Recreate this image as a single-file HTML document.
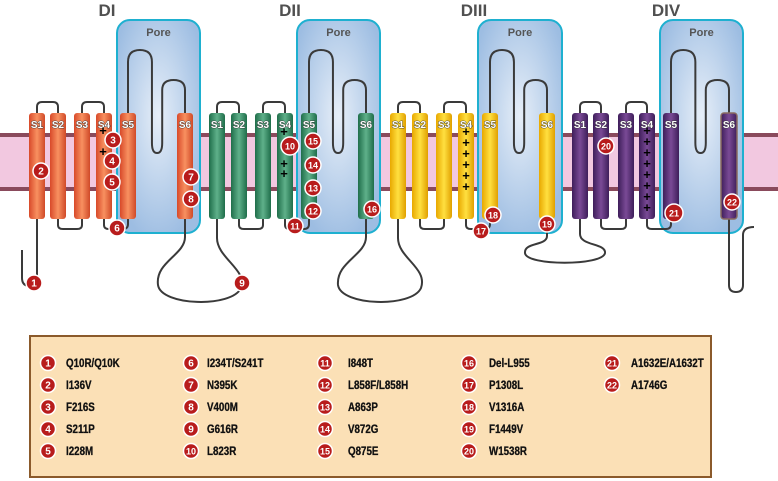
<!DOCTYPE html>
<html><head><meta charset="utf-8"><style>
html,body{margin:0;padding:0;background:#fff;width:778px;height:481px;overflow:hidden}
svg{display:block}
.t{font-family:"Liberation Sans",sans-serif;font-weight:bold}
</style></head><body>
<svg id="s" width="778" height="481" viewBox="0 0 778 481" xmlns="http://www.w3.org/2000/svg">
<defs>
<radialGradient id="pore" cx="0.5" cy="0.45" r="0.6"><stop offset="0" stop-color="#e6eef8"/><stop offset="1" stop-color="#9dbde2"/></radialGradient>
<linearGradient id="gO" x1="0" x2="1"><stop offset="0" stop-color="#d84a2a"/><stop offset="0.5" stop-color="#f89060"/><stop offset="1" stop-color="#d04a28"/></linearGradient>
<linearGradient id="gG" x1="0" x2="1"><stop offset="0" stop-color="#1f6e4a"/><stop offset="0.5" stop-color="#5fb08a"/><stop offset="1" stop-color="#1f6e4a"/></linearGradient>
<linearGradient id="gY" x1="0" x2="1"><stop offset="0" stop-color="#e8a800"/><stop offset="0.5" stop-color="#ffe040"/><stop offset="1" stop-color="#e0a000"/></linearGradient>
<linearGradient id="gP" x1="0" x2="1"><stop offset="0" stop-color="#3e1e5a"/><stop offset="0.5" stop-color="#7a4a96"/><stop offset="1" stop-color="#3e1e5a"/></linearGradient>
</defs>
<rect x="0" y="135" width="778" height="54" fill="#f2c8e0"/>
<rect x="0" y="133" width="778" height="4" fill="#8a4a5c"/>
<rect x="0" y="187" width="778" height="4" fill="#8a4a5c"/>
<g id="g"></g>
</svg>
<script>
const g=document.getElementById('g');let h='';
const D=[
 {n:'DI',tx:107,c:'gO',x:[29,50,74,96,120,177],pore:[117,200]},
 {n:'DII',tx:290,c:'gG',x:[209,231,255,277,301,358],pore:[297,380]},
 {n:'DIII',tx:474,c:'gY',x:[390,412,436,458,482,539],pore:[478,562]},
 {n:'DIV',tx:666,c:'gP',x:[572,593,618,639,663,721],pore:[660,743]}];
const L='fill="none" stroke="#3a3a3a" stroke-width="2"';
D.forEach(d=>{h+=`<rect x="${d.pore[0]}" y="20" width="${d.pore[1]-d.pore[0]}" height="213" rx="13" fill="url(#pore)" stroke="#1eb0d0" stroke-width="2"/>`;
h+=`<text class="t" x="${(d.pore[0]+d.pore[1])/2}" y="36" font-size="11" fill="#555" text-anchor="middle">Pore</text>`;
h+=`<text class="t" x="${d.tx}" y="16" font-size="17" fill="#505050" text-anchor="middle">${d.n}</text>`;});
D.forEach(d=>{const m=d.x.map(v=>v+8);
h+=`<path ${L} d="M${m[0]},113 V107 Q${m[0]},102 ${m[0]+5},102 H${m[1]-5} Q${m[1]},102 ${m[1]},107 V113"/>`;
h+=`<path ${L} d="M${m[2]},113 V107 Q${m[2]},102 ${m[2]+5},102 H${m[3]-5} Q${m[3]},102 ${m[3]},107 V113"/>`;
h+=`<path ${L} d="M${m[1]},219 V225 Q${m[1]},229 ${m[1]+5},229 H${m[2]-5} Q${m[2]},229 ${m[2]},225 V219"/>`;
h+=`<path ${L} d="M${m[3]},219 V225 Q${m[3]},229 ${m[3]+5},229 H${m[4]-5} Q${m[4]},229 ${m[4]},224 V219"/>`;
const a=m[4],b=m[5],w=(b-a);const p2=a+w*0.42,p3=a+w*0.6;
h+=`<path ${L} d="M${a},113 V62 Q${a},50 ${(a+p2)/2},50 Q${p2},50 ${p2},62 V143 Q${p2},153 ${(p2+p3)/2},153 Q${p3},153 ${p3},143 V90 Q${p3},80 ${(p3+b)/2},80 Q${b},80 ${b},90 V113"/>`;});
h+=`<path ${L} d="M37,219 V278 Q37,286 30,286 Q22,286 22,278 V250"/>`;
h+=`<path ${L} d="M185,219 V237 C185,255 155,262 158,285 C161,306 232,308 241,288 C248,270 217,258 217,238 V219"/>`;
h+=`<path ${L} d="M366,219 V237 C366,255 336,262 338,285 C341,306 412,308 421,288 C428,268 398,258 398,238 V219"/>`;
h+=`<path ${L} d="M547,219 V236 C547,246 524,242 525,253 C526,266 603,266 605,253 C606,243 580,246 580,234 V219"/>`;
h+=`<path ${L} d="M729,219 V285 Q729,292 736,292 Q743,292 743,285 V235 Q743,227 754,227"/>`;
D.forEach((d,i)=>{d.x.forEach((x,j)=>{
const st=(i==3&&j==5)?'stroke="#8a6a60" stroke-width="1.5"':'stroke="none"';
h+=`<rect x="${x}" y="113" width="16" height="106" rx="3" fill="url(#${d.c})" ${st}/>`;
h+=`<text class="t" x="${x+8}" y="128" font-size="10" fill="#fff" stroke="#333" stroke-width="0.8" paint-order="stroke" text-anchor="middle">S${j+1}</text>`;});
});
function plus(x,y){h+=`<text class="t" x="${x}" y="${y}" font-size="13" fill="#000" text-anchor="middle">+</text>`;}
[135,156].forEach(y=>plus(103,y));
[136,168,178].forEach(y=>plus(284,y));
[136,147,158,169,180,191].forEach(y=>plus(466,y));
[135,146,157,168,179,190,201,212].forEach(y=>plus(647,y));
function badge(x,y,n,r){r=r||8;h+=`<circle cx="${x}" cy="${y}" r="${r}" fill="#b81c1c" stroke="#fff" stroke-width="1.5"/><text class="t" x="${x}" y="${y+3.5}" font-size="${n>9?9:10}" fill="#fff" text-anchor="middle">${n}</text>`;}
const B=[[34,283],[41,171],[113,140],[112,161],[112,182],[117,228],[191,177],[191,199],[242,283],[290,146],[295,226],[313,211],[313,188],[313,165],[313,141],[372,209],[481,231],[493,215],[547,224],[606,146],[674,213],[732,202]];
B.forEach((p,i)=>badge(p[0],p[1],i+1,i==20||i==9?9:8));
h+=`<rect x="30" y="336" width="681" height="141" fill="#fbe0b6" stroke="#8b5a2b" stroke-width="2"/>`;
const T=['Q10R/Q10K','I136V','F216S','S211P','I228M','I234T/S241T','N395K','V400M','G616R','L823R','I848T','L858F/L858H','A863P','V872G','Q875E','Del-L955','P1308L','V1316A','F1449V','W1538R','A1632E/A1632T','A1746G'];
const cx=[48,191,325,469,612],tx=[66,207,348,489,631],ry=[363,385,407,429,451];
T.forEach((t,i)=>{const c=Math.floor(i/5),r=i%5;badge(cx[c],ry[r],i+1,7.5);
h+=`<text class="t" x="${tx[c]}" y="${ry[r]+4}" font-size="11.5" fill="#111" stroke="#111" stroke-width="0.3" transform="translate(${tx[c]} 0) scale(0.85 1) translate(${-tx[c]} 0)">${t}</text>`;});
g.innerHTML=h;
</script>
</body></html>
